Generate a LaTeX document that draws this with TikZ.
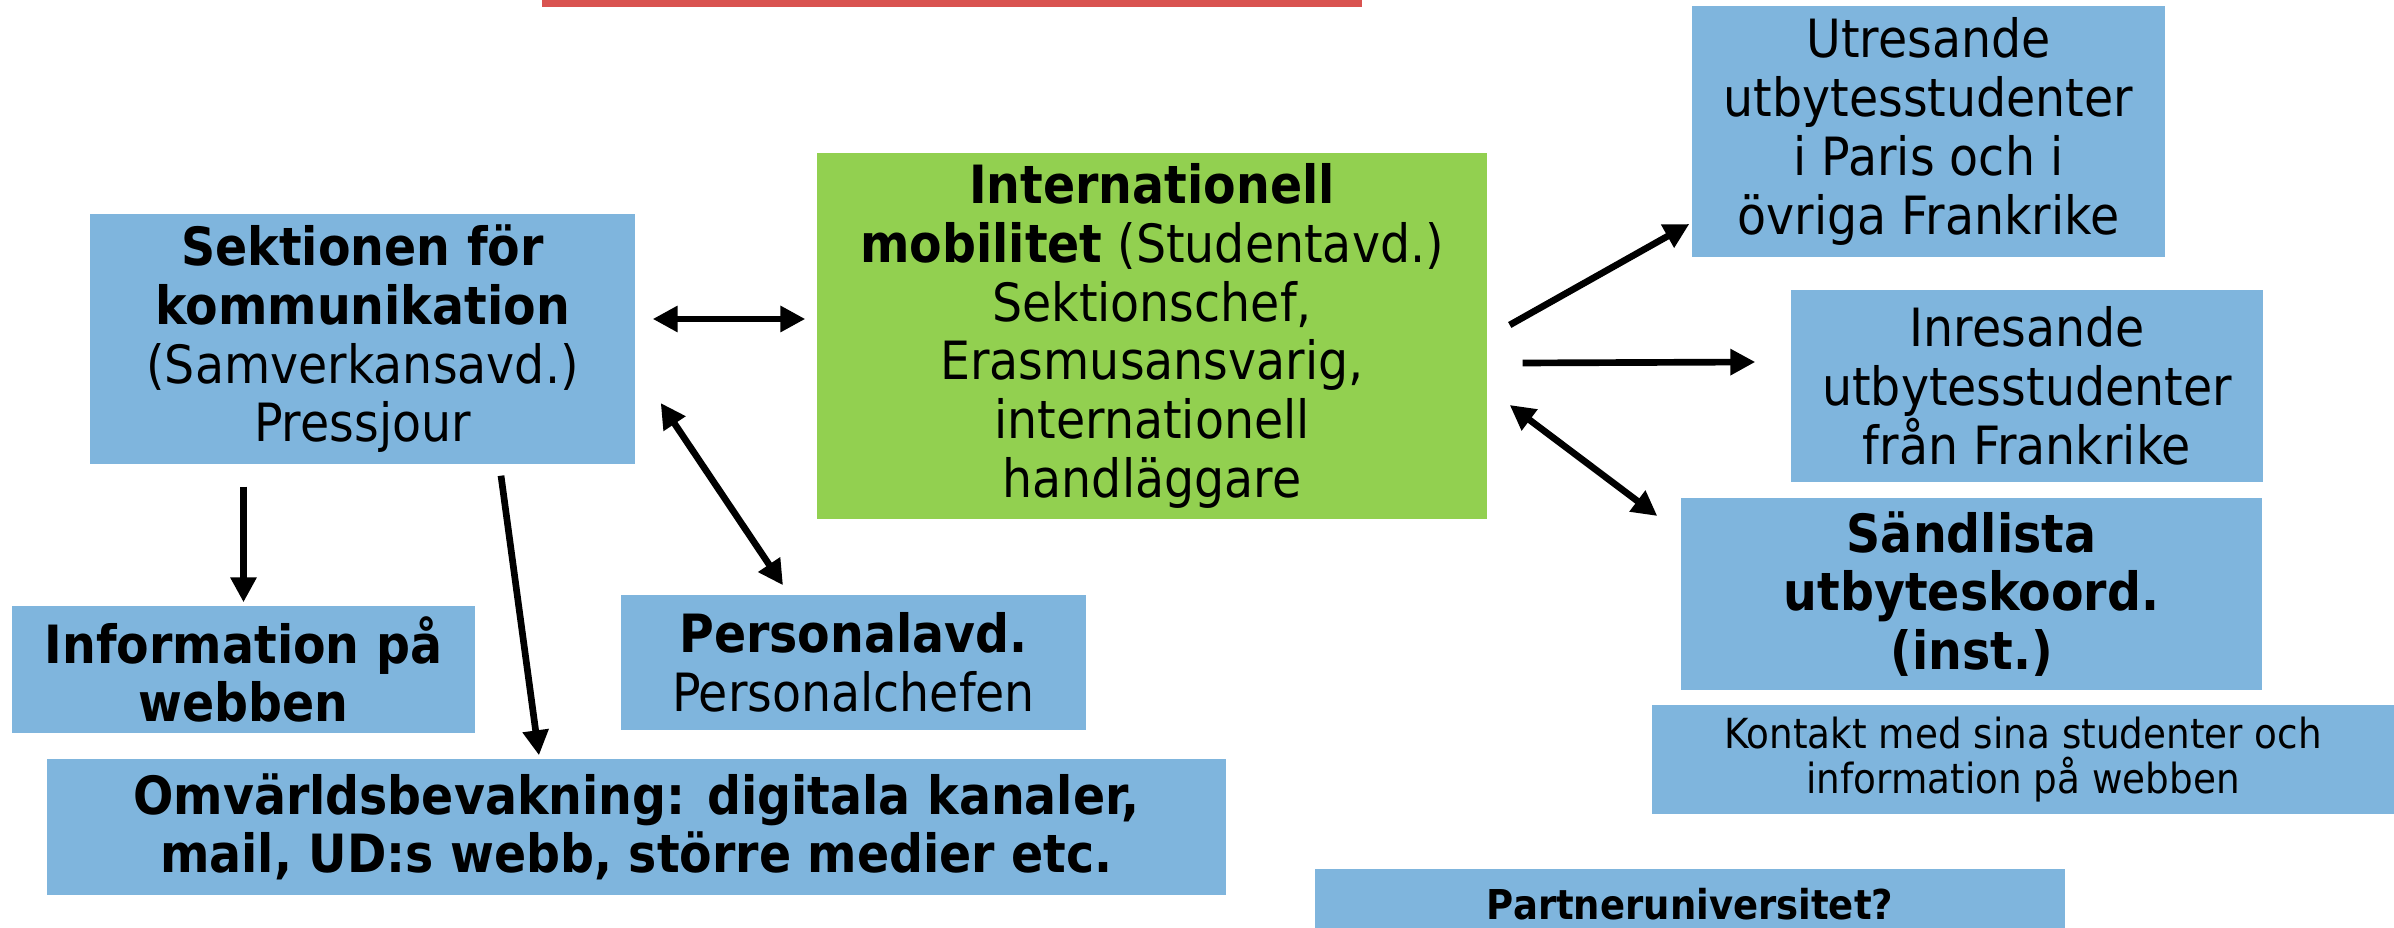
\documentclass[tikz,border=0pt]{standalone}
\usepackage{fontspec}
\setmainfont{DejaVu Sans}[FakeStretch=0.9]
\usetikzlibrary{arrows.meta}
\definecolor{boxblue}{RGB}{127,181,221}
\definecolor{boxgreen}{RGB}{146,208,80}
\definecolor{topred}{RGB}{217,83,80}

\begin{document}
\begin{tikzpicture}[blue node/.style={rectangle,fill=boxblue,inner sep=0pt,align=center,font=\fontsize{15}{16.7}\selectfont},
                    green node/.style={blue node,fill=boxgreen},
                    one way/.style={line width=1.9pt,-{Triangle[length=2.5mm,width=2.5mm]}},
                    two way/.style={line width=1.9pt,{Triangle[length=2.5mm,width=2.5mm]}-{Triangle[length=2.5mm,width=2.5mm]}}]
                \useasboundingbox (0,0) rectangle (23.94,-9.28);
                \clip (0,0) rectangle (23.94,-9.28);
                \fill[topred] (5.42,0) rectangle (13.62,-0.07);
                % left side
                \node[blue node, minimum width=5.45cm, minimum height=2.5cm] at (3.625,-3.39) (sek) {\textbf{Sektionen för}\\ \textbf{kommunikation}\\ (Samverkansavd.)\\ Pressjour};
                \node[blue node, minimum width=4.63cm, minimum height=1.27cm] at (2.435,-6.695) (info) {\textbf{Information på}\\ \textbf{webben}};
                \node[blue node, minimum width=4.65cm, minimum height=1.35cm] at (8.535,-6.625) (pers) {\textbf{Personalavd.}\\ Personalchefen};
                \node[blue node, minimum width=11.79cm, minimum height=1.36cm] at (6.365,-8.27) (omv) {\textbf{Omvärldsbevakning: digitala kanaler,}\\ \textbf{mail, UD:s webb, större medier etc.}};
                % middle
                \node[green node, minimum width=6.7cm, minimum height=3.66cm] at (11.52,-3.36) (intl) {\textbf{Internationell}\\ \textbf{mobilitet} (Studentavd.)\\ Sektionschef,\\ Erasmusansvarig,\\ internationell\\ handläggare};
                % right side
                \node[blue node, minimum width=4.73cm, minimum height=2.51cm] at (19.285,-1.315) (utr) {Utresande\\ utbytesstudenter\\ i Paris och i\\ övriga Frankrike};
                \node[blue node, minimum width=4.72cm, minimum height=1.92cm] at (20.27,-3.86) (inr) {Inresande\\ utbytesstudenter\\ från Frankrike};
                \node[blue node, minimum width=5.81cm, minimum height=1.92cm] at (19.715,-5.94) (snd) {\textbf{Sändlista}\\ \textbf{utbyteskoord.}\\ \textbf{(inst.)}};
                \node[blue node, minimum width=7.42cm, minimum height=1.09cm, font=\fontsize{11.8}{12.8}\selectfont] at (20.23,-7.595) (kon) {Kontakt med sina studenter och\\ information på webben};
                \node[blue node, minimum width=7.5cm, minimum height=0.7cm, font=\fontsize{11.7}{13}\selectfont\bfseries] at (16.9,-9.04) (part) {Partneruniversitet?};
                % connectors
                \draw[two way] ([xshift=1.7mm,yshift=2mm]sek.east) -- ([xshift=-1.1mm,yshift=2mm]sek.east -| intl.west);
                \draw[one way, shorten <=2.2mm, shorten >=0.3mm] (sek.south -| info.north) -- (info.north);
                \draw[one way] ([xshift=13.85mm,yshift=-1.1mm]sek.south) -- ([xshift=-9.75mm,yshift=0.3mm]omv.north);
                \draw[two way] ([xshift=2.5mm,yshift=-6.4mm]sek.east) -- ([xshift=-7.05mm,yshift=0.9mm]pers.north);
                \draw[one way] ([xshift=2.2mm,yshift=1.1mm]intl.east) -- ([xshift=-0.2mm,yshift=-9.25mm]utr.west);
                \draw[one way] ([xshift=3.5mm,yshift=-2.7mm]intl.east) -- ([xshift=-3.5mm,yshift=2.4mm]inr.west);
                \draw[two way] ([xshift=2.2mm,yshift=-6.9mm]intl.east) -- ([xshift=-2.3mm,yshift=7.8mm]snd.west);
            \end{tikzpicture}
\end{document}
